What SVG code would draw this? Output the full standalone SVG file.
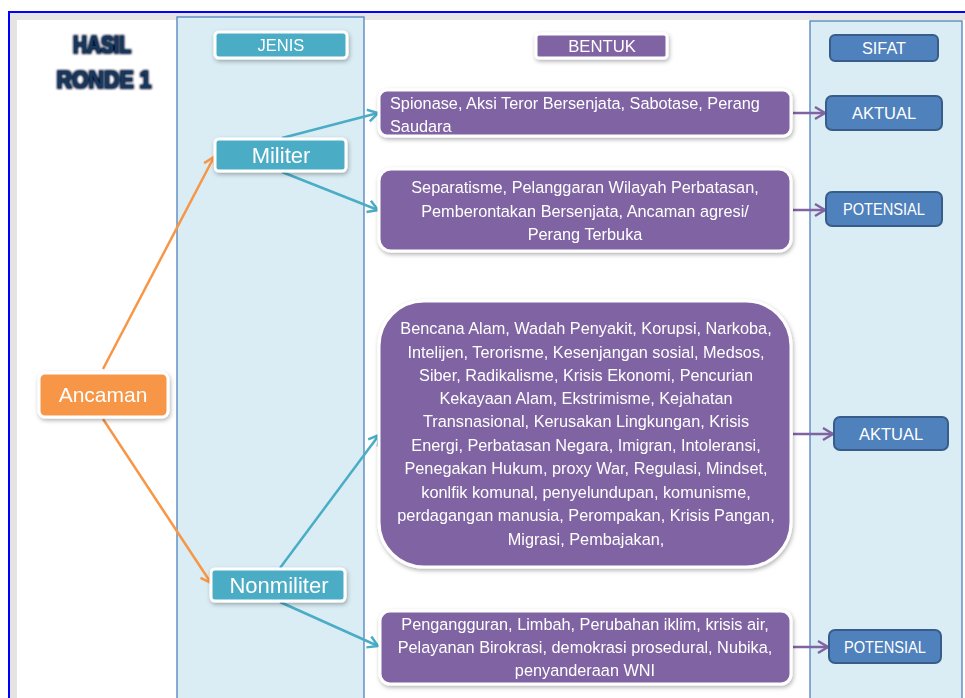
<svg xmlns="http://www.w3.org/2000/svg" width="965" height="698" viewBox="0 0 965 698">
<defs>
<style>
.t{font-family:"Liberation Sans",Arial,sans-serif;fill:#ffffff;text-anchor:middle}
.b{font-size:16.3px}
.teal{fill:#4bacc6;stroke:#ffffff;stroke-width:3}
.purp{fill:#8064a2;stroke:#ffffff;stroke-width:3}
.sif{fill:#4f81bd;stroke:#385d8a;stroke-width:2}
.panel{fill:#daedf4;stroke:#4f81bd;stroke-width:1.3}
.c{fill:none;stroke-width:2.5}
</style>
<filter id="sh" x="-20%" y="-20%" width="140%" height="150%">
<feDropShadow dx="1" dy="2" stdDeviation="2" flood-color="#000" flood-opacity="0.3"/>
</filter>
<filter id="glow" x="-20%" y="-40%" width="140%" height="180%">
<feMorphology in="SourceAlpha" operator="dilate" radius="0.8" result="d"/>
<feGaussianBlur in="d" stdDeviation="1.2" result="bl"/>
<feFlood flood-color="#000c2e"/>
<feComposite in2="bl" operator="in" result="g"/>
<feMerge><feMergeNode in="g"/><feMergeNode in="SourceGraphic"/></feMerge>
</filter>
<marker id="aT" markerUnits="userSpaceOnUse" markerWidth="16" markerHeight="16" refX="13" refY="8" orient="auto" overflow="visible">
<path d="M3,2 L13,8 L3,14" fill="none" stroke="#4bacc6" stroke-width="2.5"/>
</marker>
<marker id="aO" markerUnits="userSpaceOnUse" markerWidth="16" markerHeight="16" refX="13" refY="8" orient="auto" overflow="visible">
<path d="M3,2 L13,8 L3,14" fill="none" stroke="#f79646" stroke-width="2.5"/>
</marker>
<marker id="aP" markerUnits="userSpaceOnUse" markerWidth="16" markerHeight="16" refX="13" refY="8" orient="auto" overflow="visible">
<path d="M3,2 L13,8 L3,14" fill="none" stroke="#8064a2" stroke-width="2.5"/>
</marker>
</defs>

<g id="frame">
<rect x="9" y="12" width="980" height="720" fill="#e4e4e4" stroke="#0000ff" stroke-width="2"/>
<rect x="17" y="20" width="970" height="710" fill="#ffffff"/>
<rect class="panel" x="177" y="17" width="187" height="700"/>
<rect class="panel" x="810" y="21" width="152" height="700"/>
</g>

<g id="title" filter="url(#glow)">
<text x="102" y="53" font-family="'Liberation Sans',Arial,sans-serif" font-weight="bold" font-size="23.5" fill="#17375e" text-anchor="middle" textLength="58" lengthAdjust="spacingAndGlyphs">HASIL</text>
<text x="104" y="88" font-family="'Liberation Sans',Arial,sans-serif" font-weight="bold" font-size="23.5" fill="#17375e" text-anchor="middle" textLength="95" lengthAdjust="spacingAndGlyphs">RONDE 1</text>
</g>

<g id="connectors">
<line class="c" stroke="#f79646" x1="103" y1="369" x2="214" y2="157" marker-end="url(#aO)"/>
<line class="c" stroke="#f79646" x1="103" y1="419" x2="211" y2="583" marker-end="url(#aO)"/>
<line class="c" stroke="#4bacc6" x1="282" y1="138" x2="378" y2="113" marker-end="url(#aT)"/>
<line class="c" stroke="#4bacc6" x1="282" y1="172" x2="378" y2="210" marker-end="url(#aT)"/>
<line class="c" stroke="#4bacc6" x1="280" y1="568" x2="379" y2="435" marker-end="url(#aT)"/>
<line class="c" stroke="#4bacc6" x1="280" y1="602" x2="378" y2="646" marker-end="url(#aT)"/>
<line class="c" stroke="#8064a2" x1="793" y1="113" x2="825" y2="113" marker-end="url(#aP)"/>
<line class="c" stroke="#8064a2" x1="793" y1="210" x2="825" y2="210" marker-end="url(#aP)"/>
<line class="c" stroke="#8064a2" x1="793" y1="434" x2="833" y2="434" marker-end="url(#aP)"/>
<line class="c" stroke="#8064a2" x1="793" y1="647" x2="828" y2="647" marker-end="url(#aP)"/>
</g>

<g id="ancaman" filter="url(#sh)">
<rect x="39" y="373" width="129" height="44" rx="6" fill="#f79646" stroke="#ffffff" stroke-width="3"/>
<text class="t" x="103" y="402" font-size="21">Ancaman</text>
</g>

<g id="jenis" filter="url(#sh)">
<rect class="teal" x="215" y="32" width="132" height="26" rx="4"/>
<text class="t" x="281" y="51" font-size="16.5">JENIS</text>
</g>

<g id="militer" filter="url(#sh)">
<rect class="teal" x="215" y="139" width="131" height="32" rx="4"/>
<text class="t" x="281" y="163" font-size="22">Militer</text>
</g>

<g id="nonmiliter" filter="url(#sh)">
<rect class="teal" x="211" y="569" width="134" height="32" rx="4"/>
<text class="t" x="279" y="593" font-size="22">Nonmiliter</text>
</g>

<g id="bentuk" filter="url(#sh)">
<rect class="purp" x="536" y="34" width="131" height="24" rx="3"/>
<text class="t" x="602" y="52" font-size="16.7">BENTUK</text>
</g>

<g id="sifat">
<rect class="sif" x="830" y="35" width="108" height="26" rx="5"/>
<text class="t" x="884" y="54" font-size="16.3">SIFAT</text>
</g>

<g id="bentuk1" filter="url(#sh)">
<rect class="purp" x="379" y="90" width="412" height="46" rx="8"/>
<text class="t b" x="390" y="109" style="text-anchor:start">Spionase, Aksi Teror Bersenjata, Sabotase, Perang</text>
<text class="t b" x="390" y="132" style="text-anchor:start">Saudara</text>
</g>

<g id="bentuk2" filter="url(#sh)">
<rect class="purp" x="379" y="169" width="412" height="82" rx="12"/>
<text class="t b" x="585" y="193">Separatisme, Pelanggaran Wilayah Perbatasan,</text>
<text class="t b" x="585" y="216.5">Pemberontakan Bersenjata, Ancaman agresi/</text>
<text class="t b" x="585" y="240">Perang Terbuka</text>
</g>

<g id="bentuk3" filter="url(#sh)">
<rect class="purp" x="379" y="301" width="412" height="266" rx="45"/>
<text class="t b" x="586" y="334">Bencana Alam, Wadah Penyakit, Korupsi, Narkoba,</text>
<text class="t b" x="586" y="357.5">Intelijen, Terorisme, Kesenjangan sosial, Medsos,</text>
<text class="t b" x="586" y="381">Siber, Radikalisme, Krisis Ekonomi, Pencurian</text>
<text class="t b" x="586" y="404">Kekayaan Alam, Ekstrimisme, Kejahatan</text>
<text class="t b" x="586" y="427">Transnasional, Kerusakan Lingkungan, Krisis</text>
<text class="t b" x="586" y="450.5">Energi, Perbatasan Negara, Imigran, Intoleransi,</text>
<text class="t b" x="586" y="474">Penegakan Hukum, proxy War, Regulasi, Mindset,</text>
<text class="t b" x="586" y="497.5">konlfik komunal, penyelundupan, komunisme,</text>
<text class="t b" x="586" y="521">perdagangan manusia, Perompakan, Krisis Pangan,</text>
<text class="t b" x="586" y="544.5">Migrasi, Pembajakan,</text>
</g>

<g id="bentuk4" filter="url(#sh)">
<rect class="purp" x="380" y="611" width="411" height="73" rx="10"/>
<text class="t b" x="585" y="630">Pengangguran, Limbah, Perubahan iklim, krisis air,</text>
<text class="t b" x="585" y="653">Pelayanan Birokrasi, demokrasi prosedural, Nubika,</text>
<text class="t b" x="585" y="676">penyanderaan WNI</text>
</g>

<g id="aktual1">
<rect class="sif" x="826" y="96" width="116" height="34" rx="6"/>
<text class="t" x="884" y="119" font-size="16.5">AKTUAL</text>
</g>

<g id="potensial1">
<rect class="sif" x="826" y="192" width="116" height="34" rx="6"/>
<text class="t" x="884" y="215" font-size="16.5" textLength="82" lengthAdjust="spacingAndGlyphs">POTENSIAL</text>
</g>

<g id="aktual2">
<rect class="sif" x="834" y="417" width="114" height="33" rx="6"/>
<text class="t" x="891" y="439.5" font-size="16.5">AKTUAL</text>
</g>

<g id="potensial2">
<rect class="sif" x="829" y="630" width="112" height="33" rx="6"/>
<text class="t" x="885" y="652.5" font-size="16.5" textLength="82" lengthAdjust="spacingAndGlyphs">POTENSIAL</text>
</g>
</svg>
